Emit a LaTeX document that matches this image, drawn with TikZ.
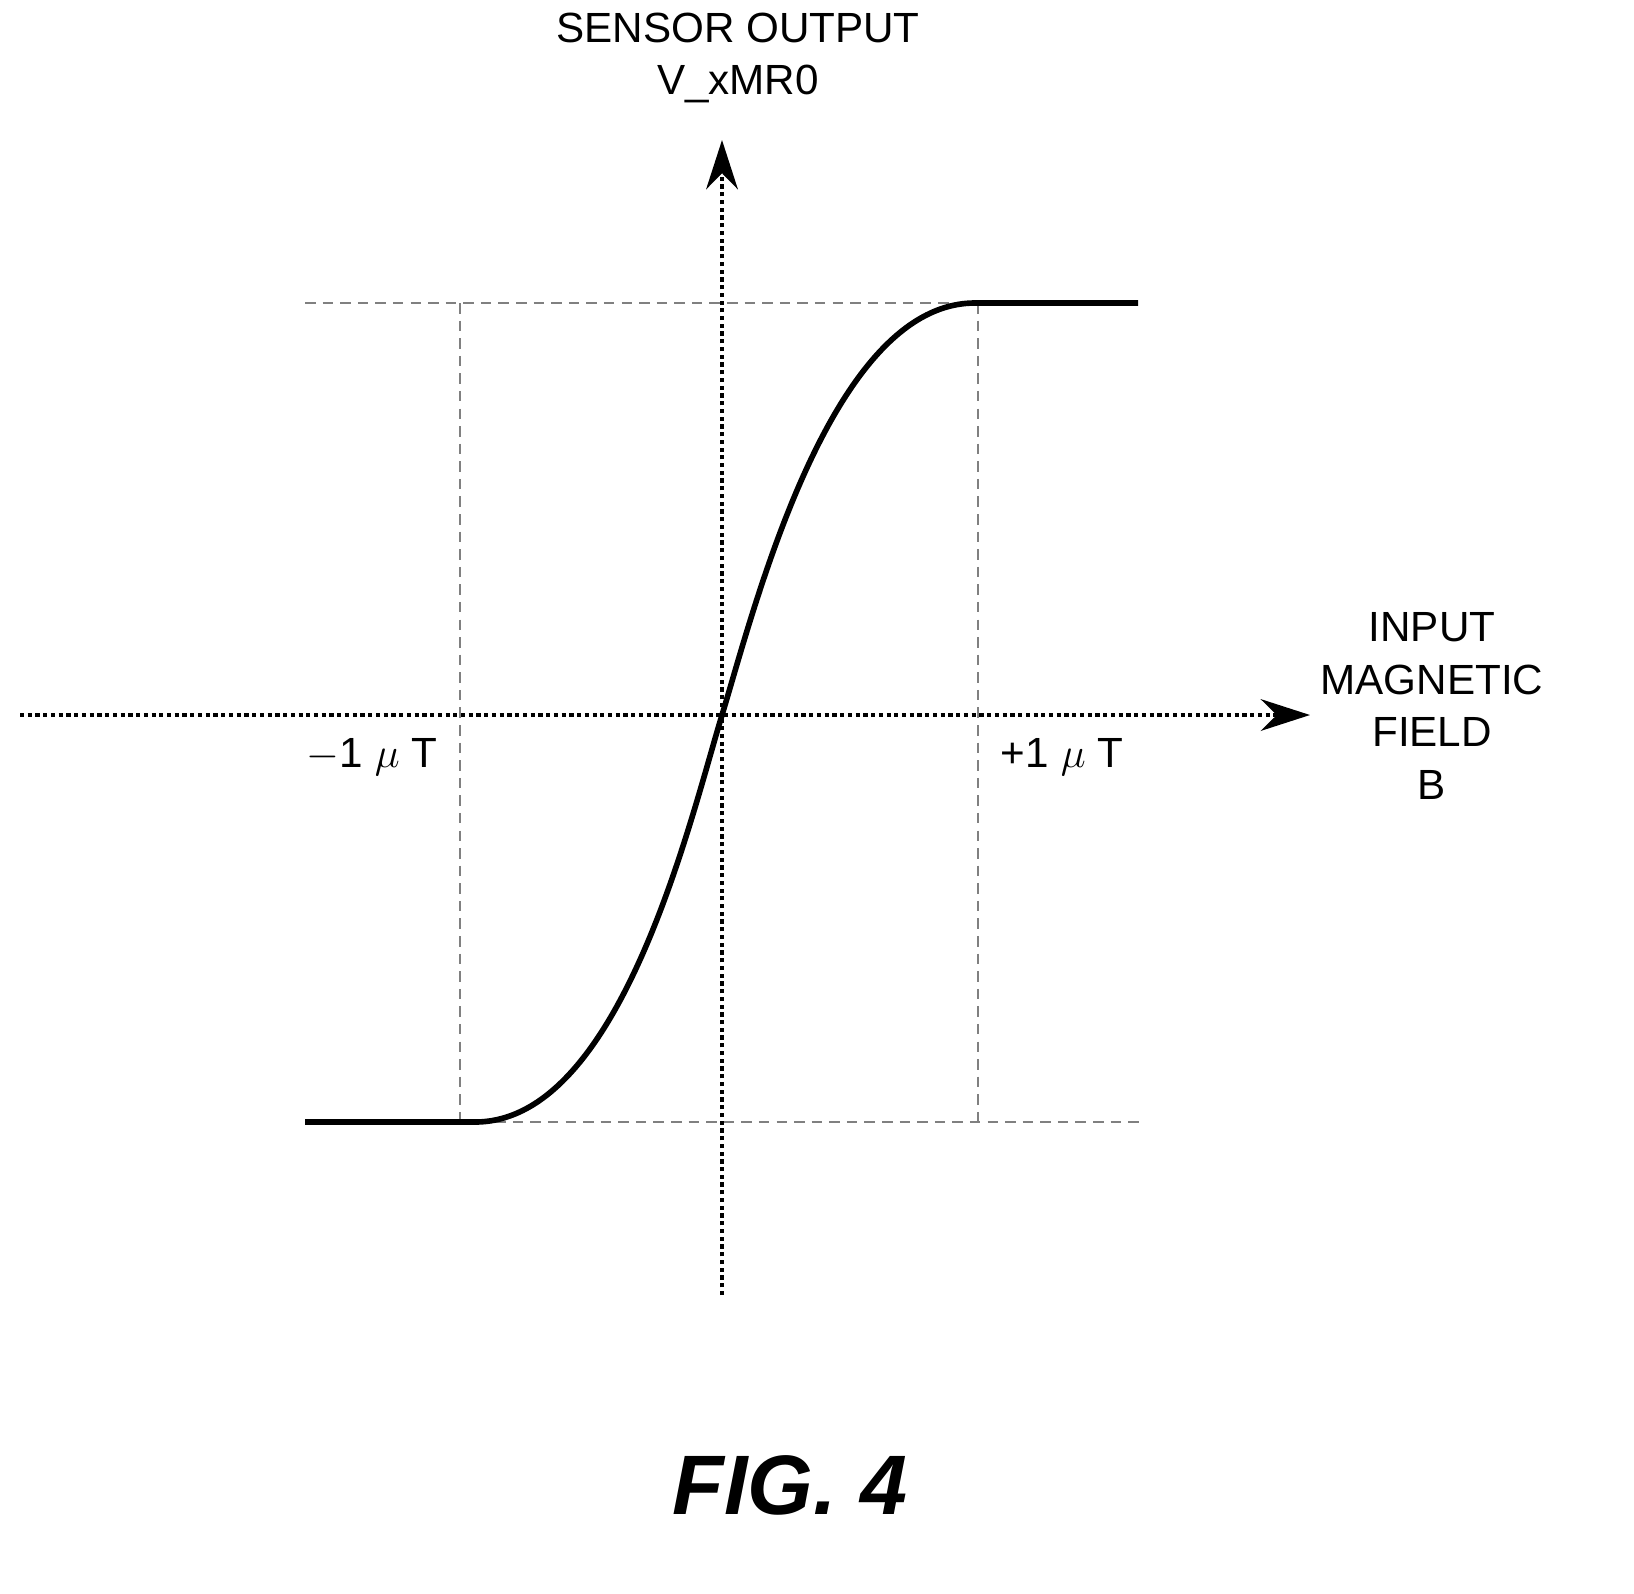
\documentclass[tikz,border=0pt]{standalone}
\usepackage{fontspec}
\setmainfont{Liberation Sans}
\usetikzlibrary{arrows.meta}

\begin{document}
\begin{tikzpicture}[x=0.01cm,y=-0.01cm]
        \tikzset{guide/.style={densely dashed,gray,line width=0.5pt},
          axis/.style={densely dotted,line width=1.2pt,-{Stealth[length=14pt,width=9pt]}},
          curve/.style={line width=1.6pt},
          lab/.style={font=\fontsize{12pt}{15pt}\selectfont,inner sep=0pt,align=center}}
        \useasboundingbox (0,0) rectangle (1634,1593);
        % key points
        \coordinate (O) at (722,715);
        \coordinate (xs) at (20,715);
        \coordinate (xe) at (1310,715);
        \coordinate (ys) at (722,1295);
        \coordinate (ye) at (722,140);
        \coordinate (lo) at (475,1122);
        \coordinate (hi) at (975,303);
        % guides
        \draw [guide] (305,303) -- (hi);
        \draw [guide] (460,1122) -- (1140,1122);
        \draw [guide] (460,303) -- (460,1122);
        \draw [guide] (978,303) -- (978,1122);
        % axes
        \draw [axis] (xs) -- (xe);
        \draw [axis] (ys) -- (ye);
        % curve
        \draw [curve] (305,1122) -- (lo) .. controls (620,1122) and (690,820) .. (O)
              .. controls (754,610) and (830,303) .. (hi) -- (1138,303);
        % labels
        \node [lab] (yl) at (738,58) {SENSOR OUTPUT\\V\_xMR0};
        \node [lab] (xl) at (1432,706) {INPUT\\MAGNETIC\\FIELD\\B};
        \node [lab] (m1) at (372,757) {$-$1 $\mu$ T};
        \node [lab] (p1) at (1062,757) {+1 $\mu$ T};
        \node [lab,font=\fontsize{24pt}{30pt}\selectfont\bfseries\itshape] (fig) at (790,1485) {FIG. 4};
\end{tikzpicture}
\end{document}
